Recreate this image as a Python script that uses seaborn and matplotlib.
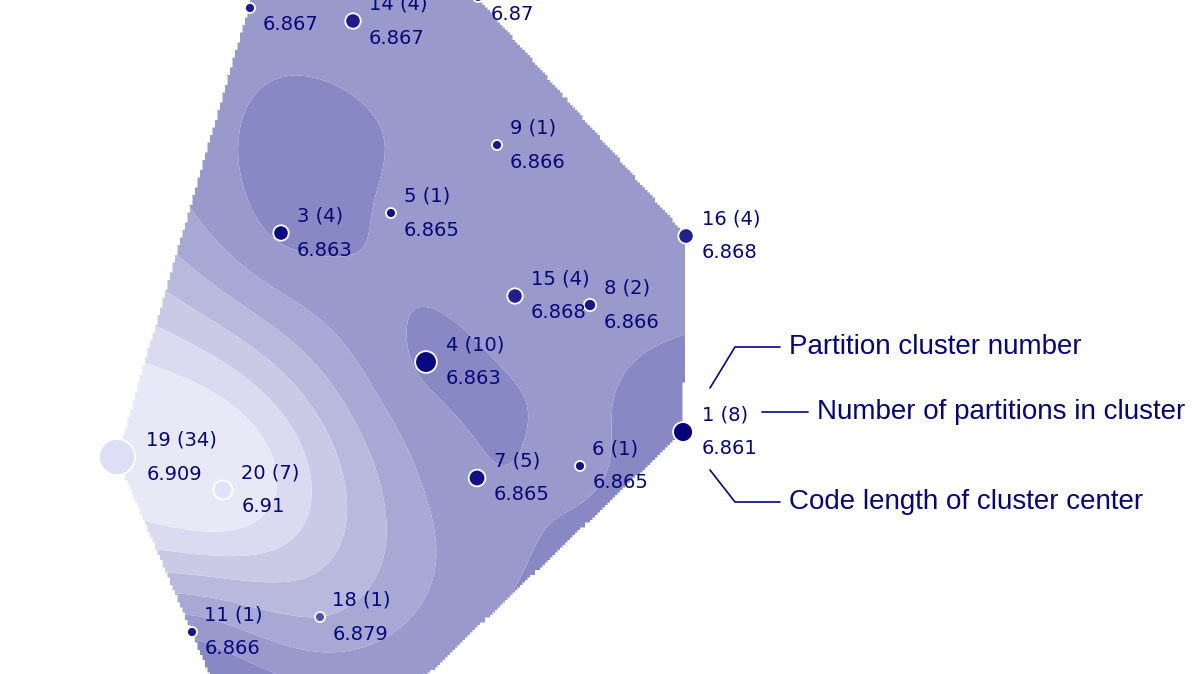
import numpy as np
import pandas as pd
import matplotlib
matplotlib.use("Agg")
import matplotlib.pyplot as plt
from matplotlib.path import Path
from matplotlib.patches import PathPatch
from matplotlib.colors import LinearSegmentedColormap, Normalize
import seaborn as sns

# ---------------- data ----------------
cluster_ids = ["13", "14", "10", "9", "5", "3", "16", "15", "8", "4", "1", "19", "20", "7", "6", "18", "11"]
partition_counts = [1, 4, 1, 1, 1, 4, 4, 4, 2, 10, 8, 34, 7, 5, 1, 1, 1]
code_lengths = [6.867, 6.867, 6.87, 6.866, 6.865, 6.863, 6.868, 6.868, 6.866, 6.863,
                6.861, 6.909, 6.91, 6.865, 6.865, 6.879, 6.866]
map_x = [250, 353, 478, 497, 391, 281, 686, 515, 590, 426, 683, 117, 223, 477, 580, 320, 192]
map_y = [8, 21, -3, 145, 213, 233, 236, 296, 305, 362, 432, 457, 490, 478, 466, 617, 632]
# outline of the mapped region (extends beyond the visible frame)
map_outline = [(264, -45), (440, -45), (686, 236), (683, 432), (273, 822), (117, 457)]
contour_levels = [6.80, 6.8641, 6.8715, 6.879, 6.8865, 6.894, 6.9015, 6.99]
legend_texts = ["Partition cluster number", "Number of partitions in cluster", "Code length of cluster center"]

df = pd.DataFrame({"cid": cluster_ids, "n": partition_counts, "L": code_lengths,
                   "x": map_x, "y": map_y})

# ---------------- styling ----------------
W, H, DPI = 1200, 674, 100
PX = 72.0 / DPI  # points per pixel
navy = "#06067a"
fill_colors = ["#8888c4", "#9999cc", "#a8a8d4", "#b9b9de", "#cacae6", "#dadaf0", "#e8e8f6"]
point_cmap = LinearSegmentedColormap.from_list("pts", ["#00007c", "#e2e2f8"])

sns.set_theme(style="white")
plt.rcParams["font.family"] = ["DejaVu Sans"]

fig = plt.figure(figsize=(W / DPI, H / DPI), dpi=DPI)
ax = fig.add_axes([0, 0, 1, 1])
ax.set_xlim(0, W)
ax.set_ylim(H, 0)
ax.axis("off")

# ---------------- thin-plate-spline surface of code length ----------------
px = df["x"].to_numpy(float) / 100.0
py = df["y"].to_numpy(float) / 100.0
vals = df["L"].to_numpy(float)
vmean = vals.mean()


def tps_kernel(r):
    with np.errstate(divide="ignore", invalid="ignore"):
        k = r * r * np.log(r)
    return np.where(r > 0, k, 0.0)


npt = len(px)
K = tps_kernel(np.hypot(px[:, None] - px[None, :], py[:, None] - py[None, :]))
P = np.c_[np.ones(npt), px, py]
A = np.zeros((npt + 3, npt + 3))
A[:npt, :npt] = K + 1e-3 * np.eye(npt)
A[:npt, npt:] = P
A[npt:, :npt] = P.T
rhs = np.r_[vals - vmean, np.zeros(3)]
coef = np.linalg.solve(A, rhs)

step = 2.0
gx, gy = np.meshgrid(np.arange(0, W + step, step), np.arange(-60, H + 60, step))
gxs, gys = gx / 100.0, gy / 100.0
r = np.hypot(gxs[..., None] - px, gys[..., None] - py)
z = vmean + (tps_kernel(r) * coef[:npt]).sum(-1) + coef[npt] + coef[npt + 1] * gxs + coef[npt + 2] * gys

cs = ax.contourf(gx, gy, z, levels=contour_levels, colors=fill_colors, antialiased=True, zorder=1)


# jagged (rasterised-looking) outline used as clip path
def staircase(poly, s=2.5):
    pts = []
    for a, b in zip(poly, poly[1:] + poly[:1]):
        a, b = np.asarray(a, float), np.asarray(b, float)
        n = int(np.hypot(*(b - a))) + 1
        for t in np.linspace(0, 1, n, endpoint=False):
            pts.append(np.round((a + t * (b - a)) / s) * s)
    out = [pts[0]]
    for p in pts[1:]:
        q = out[-1]
        if p[0] == q[0] and p[1] == q[1]:
            continue
        if p[0] != q[0] and p[1] != q[1]:
            out.append(np.array([p[0], q[1]]))
        out.append(p)
    out.append(out[0])
    return Path(np.array(out), closed=True)


clip = PathPatch(staircase(map_outline), transform=ax.transData, facecolor="none", edgecolor="none")
ax.add_patch(clip)
cs.set_clip_path(clip)

# ---------------- cluster points ----------------
def radius_px(n):
    return 2.3 + 2.7 * np.sqrt(n)


size_map = {n: (2 * radius_px(n) * PX) ** 2 for n in sorted(set(partition_counts))}
sns.scatterplot(data=df, x="x", y="y", hue="L", palette=point_cmap,
                hue_norm=Normalize(6.861, 6.91), size="n", sizes=size_map,
                edgecolor="white", linewidth=1.3, legend=False, ax=ax, zorder=3)
ax.set_xlim(0, W)
ax.set_ylim(H, 0)

for _, row in df.iterrows():
    dx = (6 + 1.3 * radius_px(row["n"])) * PX
    ax.annotate(f'{row["cid"]} ({row["n"]})', (row["x"], row["y"]), xytext=(dx, 11.5 * PX),
                textcoords="offset points", ha="left", va="baseline",
                fontsize=14, color=navy, zorder=4, annotation_clip=False)
    ax.annotate(f'{row["L"]:g}', (row["x"], row["y"]), xytext=(dx, -22.5 * PX),
                textcoords="offset points", ha="left", va="baseline",
                fontsize=14, color=navy, zorder=4, annotation_clip=False)

# ---------------- explanatory call-outs around cluster 1 ----------------
ref = df[df["cid"] == "1"].iloc[0]
x0, y0 = ref["x"], ref["y"]
lk = dict(color=navy, lw=1.2, zorder=4)
ax.plot([x0 + 27, x0 + 52, x0 + 97], [y0 - 44, y0 - 85, y0 - 85], **lk)
ax.plot([x0 + 79, x0 + 125], [y0 - 20, y0 - 20], **lk)
ax.plot([x0 + 27, x0 + 52, x0 + 97], [y0 + 38, y0 + 70, y0 + 70], **lk)
tk = dict(fontsize=20, color=navy, ha="left", va="center", family=["Liberation Sans", "DejaVu Sans"])
ax.text(x0 + 106, y0 - 85, legend_texts[0], **tk)
ax.text(x0 + 134, y0 - 20, legend_texts[1], **tk)
ax.text(x0 + 106, y0 + 70, legend_texts[2], **tk)

fig.savefig("out.png", dpi=DPI, facecolor="white")
